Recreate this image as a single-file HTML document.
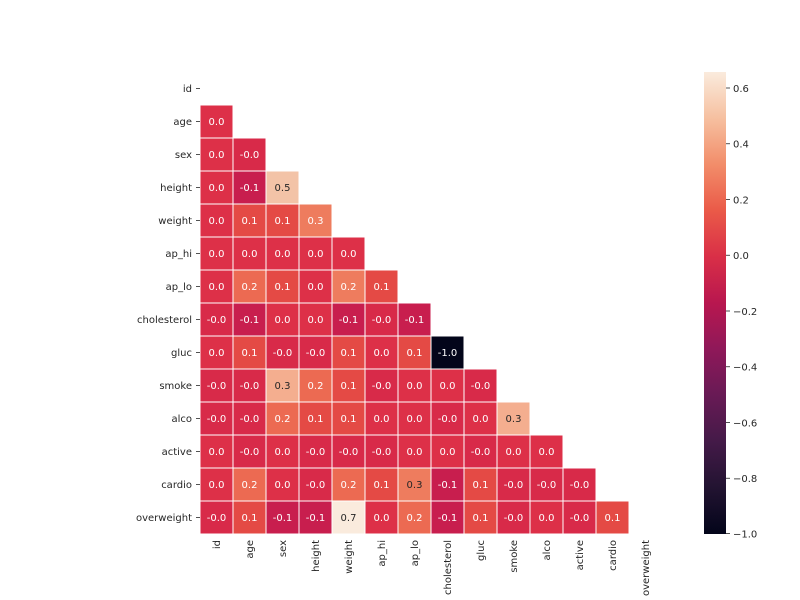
<!DOCTYPE html>
<html><head><meta charset="utf-8"><style>
html,body{margin:0;padding:0;background:#fff;}
svg{display:block;font-family:"DejaVu Sans","Liberation Sans",sans-serif;}
.z{fill:#dd3048}.n{fill:#d82a49}.m{fill:#c81e4e}.p{fill:#e44a45}.q{fill:#ec6a52}.r{fill:#ee7c5e}.s{fill:#f4ae8f}.f{fill:#f3c3a7}.g{fill:#faebdd}.k{fill:#03051a}
rect{stroke:#fff;stroke-width:1}
.c text{font-size:10px;text-anchor:middle;fill:#fff}
.c text.d{fill:#262626}
.l{font-size:10px;fill:#262626}
</style></head><body>
<svg width="800" height="600" viewBox="0 0 800 600">
<defs><linearGradient id="cb" x1="0" y1="0" x2="0" y2="1">
<stop offset="0" stop-color="#faebdd"/><stop offset="0.1" stop-color="#f6c0a0"/><stop offset="0.2" stop-color="#f28d6a"/><stop offset="0.3" stop-color="#ea5a48"/><stop offset="0.4" stop-color="#d92f47"/><stop offset="0.5" stop-color="#b8174f"/><stop offset="0.6" stop-color="#8f1859"/><stop offset="0.7" stop-color="#681a55"/><stop offset="0.8" stop-color="#441a48"/><stop offset="0.9" stop-color="#221331"/><stop offset="1" stop-color="#03051a"/>
</linearGradient></defs>
<g class="c">
<!-- age -->
<rect class="z" x="200" y="105" width="33" height="33"/><text x="216.5" y="125">0.0</text>
<!-- sex -->
<rect class="z" x="200" y="138" width="33" height="33"/><text x="216.5" y="158">0.0</text>
<rect class="n" x="233" y="138" width="33" height="33"/><text x="249.5" y="158">-0.0</text>
<!-- height -->
<rect class="z" x="200" y="171" width="33" height="33"/><text x="216.5" y="191">0.0</text>
<rect class="m" x="233" y="171" width="33" height="33"/><text x="249.5" y="191">-0.1</text>
<rect class="f" x="266" y="171" width="33" height="33"/><text class="d" x="282.5" y="191">0.5</text>
<!-- weight -->
<rect class="z" x="200" y="204" width="33" height="33"/><text x="216.5" y="224">0.0</text>
<rect class="p" x="233" y="204" width="33" height="33"/><text x="249.5" y="224">0.1</text>
<rect class="p" x="266" y="204" width="33" height="33"/><text x="282.5" y="224">0.1</text>
<rect class="r" x="299" y="204" width="33" height="33"/><text x="315.5" y="224">0.3</text>
<!-- ap_hi -->
<rect class="z" x="200" y="237" width="33" height="33"/><text x="216.5" y="257">0.0</text>
<rect class="z" x="233" y="237" width="33" height="33"/><text x="249.5" y="257">0.0</text>
<rect class="z" x="266" y="237" width="33" height="33"/><text x="282.5" y="257">0.0</text>
<rect class="z" x="299" y="237" width="33" height="33"/><text x="315.5" y="257">0.0</text>
<rect class="z" x="332" y="237" width="33" height="33"/><text x="348.5" y="257">0.0</text>
<!-- ap_lo -->
<rect class="z" x="200" y="270" width="33" height="33"/><text x="216.5" y="290">0.0</text>
<rect class="q" x="233" y="270" width="33" height="33"/><text x="249.5" y="290">0.2</text>
<rect class="p" x="266" y="270" width="33" height="33"/><text x="282.5" y="290">0.1</text>
<rect class="z" x="299" y="270" width="33" height="33"/><text x="315.5" y="290">0.0</text>
<rect class="r" x="332" y="270" width="33" height="33"/><text x="348.5" y="290">0.2</text>
<rect class="p" x="365" y="270" width="33" height="33"/><text x="381.5" y="290">0.1</text>
<!-- cholesterol -->
<rect class="n" x="200" y="303" width="33" height="33"/><text x="216.5" y="323">-0.0</text>
<rect class="m" x="233" y="303" width="33" height="33"/><text x="249.5" y="323">-0.1</text>
<rect class="z" x="266" y="303" width="33" height="33"/><text x="282.5" y="323">0.0</text>
<rect class="z" x="299" y="303" width="33" height="33"/><text x="315.5" y="323">0.0</text>
<rect class="m" x="332" y="303" width="33" height="33"/><text x="348.5" y="323">-0.1</text>
<rect class="n" x="365" y="303" width="33" height="33"/><text x="381.5" y="323">-0.0</text>
<rect class="m" x="398" y="303" width="33" height="33"/><text x="414.5" y="323">-0.1</text>
<!-- gluc -->
<rect class="z" x="200" y="336" width="33" height="33"/><text x="216.5" y="356">0.0</text>
<rect class="p" x="233" y="336" width="33" height="33"/><text x="249.5" y="356">0.1</text>
<rect class="n" x="266" y="336" width="33" height="33"/><text x="282.5" y="356">-0.0</text>
<rect class="n" x="299" y="336" width="33" height="33"/><text x="315.5" y="356">-0.0</text>
<rect class="p" x="332" y="336" width="33" height="33"/><text x="348.5" y="356">0.1</text>
<rect class="z" x="365" y="336" width="33" height="33"/><text x="381.5" y="356">0.0</text>
<rect class="p" x="398" y="336" width="33" height="33"/><text x="414.5" y="356">0.1</text>
<rect class="k" x="431" y="336" width="33" height="33"/><text x="447.5" y="356">-1.0</text>
<!-- smoke -->
<rect class="n" x="200" y="369" width="33" height="33"/><text x="216.5" y="389">-0.0</text>
<rect class="n" x="233" y="369" width="33" height="33"/><text x="249.5" y="389">-0.0</text>
<rect class="s" x="266" y="369" width="33" height="33"/><text class="d" x="282.5" y="389">0.3</text>
<rect class="q" x="299" y="369" width="33" height="33"/><text x="315.5" y="389">0.2</text>
<rect class="p" x="332" y="369" width="33" height="33"/><text x="348.5" y="389">0.1</text>
<rect class="n" x="365" y="369" width="33" height="33"/><text x="381.5" y="389">-0.0</text>
<rect class="z" x="398" y="369" width="33" height="33"/><text x="414.5" y="389">0.0</text>
<rect class="z" x="431" y="369" width="33" height="33"/><text x="447.5" y="389">0.0</text>
<rect class="n" x="464" y="369" width="33" height="33"/><text x="480.5" y="389">-0.0</text>
<!-- alco -->
<rect class="n" x="200" y="402" width="33" height="33"/><text x="216.5" y="422">-0.0</text>
<rect class="n" x="233" y="402" width="33" height="33"/><text x="249.5" y="422">-0.0</text>
<rect class="q" x="266" y="402" width="33" height="33"/><text x="282.5" y="422">0.2</text>
<rect class="p" x="299" y="402" width="33" height="33"/><text x="315.5" y="422">0.1</text>
<rect class="p" x="332" y="402" width="33" height="33"/><text x="348.5" y="422">0.1</text>
<rect class="z" x="365" y="402" width="33" height="33"/><text x="381.5" y="422">0.0</text>
<rect class="z" x="398" y="402" width="33" height="33"/><text x="414.5" y="422">0.0</text>
<rect class="n" x="431" y="402" width="33" height="33"/><text x="447.5" y="422">-0.0</text>
<rect class="z" x="464" y="402" width="33" height="33"/><text x="480.5" y="422">0.0</text>
<rect class="s" x="497" y="402" width="33" height="33"/><text class="d" x="513.5" y="422">0.3</text>
<!-- active -->
<rect class="z" x="200" y="435" width="33" height="33"/><text x="216.5" y="455">0.0</text>
<rect class="n" x="233" y="435" width="33" height="33"/><text x="249.5" y="455">-0.0</text>
<rect class="z" x="266" y="435" width="33" height="33"/><text x="282.5" y="455">0.0</text>
<rect class="n" x="299" y="435" width="33" height="33"/><text x="315.5" y="455">-0.0</text>
<rect class="n" x="332" y="435" width="33" height="33"/><text x="348.5" y="455">-0.0</text>
<rect class="n" x="365" y="435" width="33" height="33"/><text x="381.5" y="455">-0.0</text>
<rect class="z" x="398" y="435" width="33" height="33"/><text x="414.5" y="455">0.0</text>
<rect class="z" x="431" y="435" width="33" height="33"/><text x="447.5" y="455">0.0</text>
<rect class="n" x="464" y="435" width="33" height="33"/><text x="480.5" y="455">-0.0</text>
<rect class="z" x="497" y="435" width="33" height="33"/><text x="513.5" y="455">0.0</text>
<rect class="z" x="530" y="435" width="33" height="33"/><text x="546.5" y="455">0.0</text>
<!-- cardio -->
<rect class="z" x="200" y="468" width="33" height="33"/><text x="216.5" y="488">0.0</text>
<rect class="q" x="233" y="468" width="33" height="33"/><text x="249.5" y="488">0.2</text>
<rect class="z" x="266" y="468" width="33" height="33"/><text x="282.5" y="488">0.0</text>
<rect class="n" x="299" y="468" width="33" height="33"/><text x="315.5" y="488">-0.0</text>
<rect class="q" x="332" y="468" width="33" height="33"/><text x="348.5" y="488">0.2</text>
<rect class="p" x="365" y="468" width="33" height="33"/><text x="381.5" y="488">0.1</text>
<rect class="r" x="398" y="468" width="33" height="33"/><text class="d" x="414.5" y="488">0.3</text>
<rect class="m" x="431" y="468" width="33" height="33"/><text x="447.5" y="488">-0.1</text>
<rect class="p" x="464" y="468" width="33" height="33"/><text x="480.5" y="488">0.1</text>
<rect class="n" x="497" y="468" width="33" height="33"/><text x="513.5" y="488">-0.0</text>
<rect class="n" x="530" y="468" width="33" height="33"/><text x="546.5" y="488">-0.0</text>
<rect class="n" x="563" y="468" width="33" height="33"/><text x="579.5" y="488">-0.0</text>
<!-- overweight -->
<rect class="n" x="200" y="501" width="33" height="33"/><text x="216.5" y="521">-0.0</text>
<rect class="p" x="233" y="501" width="33" height="33"/><text x="249.5" y="521">0.1</text>
<rect class="m" x="266" y="501" width="33" height="33"/><text x="282.5" y="521">-0.1</text>
<rect class="m" x="299" y="501" width="33" height="33"/><text x="315.5" y="521">-0.1</text>
<rect class="g" x="332" y="501" width="33" height="33"/><text class="d" x="348.5" y="521">0.7</text>
<rect class="z" x="365" y="501" width="33" height="33"/><text x="381.5" y="521">0.0</text>
<rect class="q" x="398" y="501" width="33" height="33"/><text x="414.5" y="521">0.2</text>
<rect class="m" x="431" y="501" width="33" height="33"/><text x="447.5" y="521">-0.1</text>
<rect class="p" x="464" y="501" width="33" height="33"/><text x="480.5" y="521">0.1</text>
<rect class="n" x="497" y="501" width="33" height="33"/><text x="513.5" y="521">-0.0</text>
<rect class="z" x="530" y="501" width="33" height="33"/><text x="546.5" y="521">0.0</text>
<rect class="n" x="563" y="501" width="33" height="33"/><text x="579.5" y="521">-0.0</text>
<rect class="p" x="596" y="501" width="33" height="33"/><text x="612.5" y="521">0.1</text>
</g>
<g class="l" text-anchor="end">
<text x="192" y="92">id</text><text x="192" y="125">age</text><text x="192" y="158">sex</text><text x="192" y="191">height</text><text x="192" y="224">weight</text><text x="192" y="257">ap_hi</text><text x="192" y="290">ap_lo</text><text x="192" y="323">cholesterol</text><text x="192" y="356">gluc</text><text x="192" y="389">smoke</text><text x="192" y="422">alco</text><text x="192" y="455">active</text><text x="192" y="488">cardio</text><text x="192" y="521">overweight</text>
</g>
<g stroke="#262626" stroke-width="0.8">
<line x1="196" y1="88.5" x2="200" y2="88.5"/><line x1="196" y1="121.5" x2="200" y2="121.5"/><line x1="196" y1="154.5" x2="200" y2="154.5"/><line x1="196" y1="187.5" x2="200" y2="187.5"/><line x1="196" y1="220.5" x2="200" y2="220.5"/><line x1="196" y1="253.5" x2="200" y2="253.5"/><line x1="196" y1="286.5" x2="200" y2="286.5"/><line x1="196" y1="319.5" x2="200" y2="319.5"/><line x1="196" y1="352.5" x2="200" y2="352.5"/><line x1="196" y1="385.5" x2="200" y2="385.5"/><line x1="196" y1="418.5" x2="200" y2="418.5"/><line x1="196" y1="451.5" x2="200" y2="451.5"/><line x1="196" y1="484.5" x2="200" y2="484.5"/><line x1="196" y1="517.5" x2="200" y2="517.5"/>
</g>
<g class="l" text-anchor="end">
<text transform="translate(220,540) rotate(-90)">id</text>
<text transform="translate(253,540) rotate(-90)">age</text>
<text transform="translate(286,540) rotate(-90)">sex</text>
<text transform="translate(319,540) rotate(-90)">height</text>
<text transform="translate(352,540) rotate(-90)">weight</text>
<text transform="translate(385,540) rotate(-90)">ap_hi</text>
<text transform="translate(418,540) rotate(-90)">ap_lo</text>
<text transform="translate(451,540) rotate(-90)">cholesterol</text>
<text transform="translate(484,540) rotate(-90)">gluc</text>
<text transform="translate(517,540) rotate(-90)">smoke</text>
<text transform="translate(550,540) rotate(-90)">alco</text>
<text transform="translate(583,540) rotate(-90)">active</text>
<text transform="translate(616,540) rotate(-90)">cardio</text>
<text transform="translate(649,540) rotate(-90)">overweight</text>
</g>
<rect x="704" y="72" width="22" height="462" fill="url(#cb)" style="stroke:none"/>
<g stroke="#262626" stroke-width="0.8">
<line x1="726" y1="88" x2="730" y2="88"/><line x1="726" y1="143.75" x2="730" y2="143.75"/><line x1="726" y1="199.5" x2="730" y2="199.5"/><line x1="726" y1="255.25" x2="730" y2="255.25"/><line x1="726" y1="311" x2="730" y2="311"/><line x1="726" y1="366.75" x2="730" y2="366.75"/><line x1="726" y1="422.5" x2="730" y2="422.5"/><line x1="726" y1="478.25" x2="730" y2="478.25"/><line x1="726" y1="533.5" x2="730" y2="533.5"/>
</g>
<g class="l">
<text x="733" y="92">0.6</text><text x="733" y="147.5">0.4</text><text x="733" y="203.5">0.2</text><text x="733" y="259">0.0</text><text x="733" y="315">−0.2</text><text x="733" y="370.5">−0.4</text><text x="733" y="426.5">−0.6</text><text x="733" y="482">−0.8</text><text x="733" y="537.5">−1.0</text>
</g>
</svg>
</body></html>
